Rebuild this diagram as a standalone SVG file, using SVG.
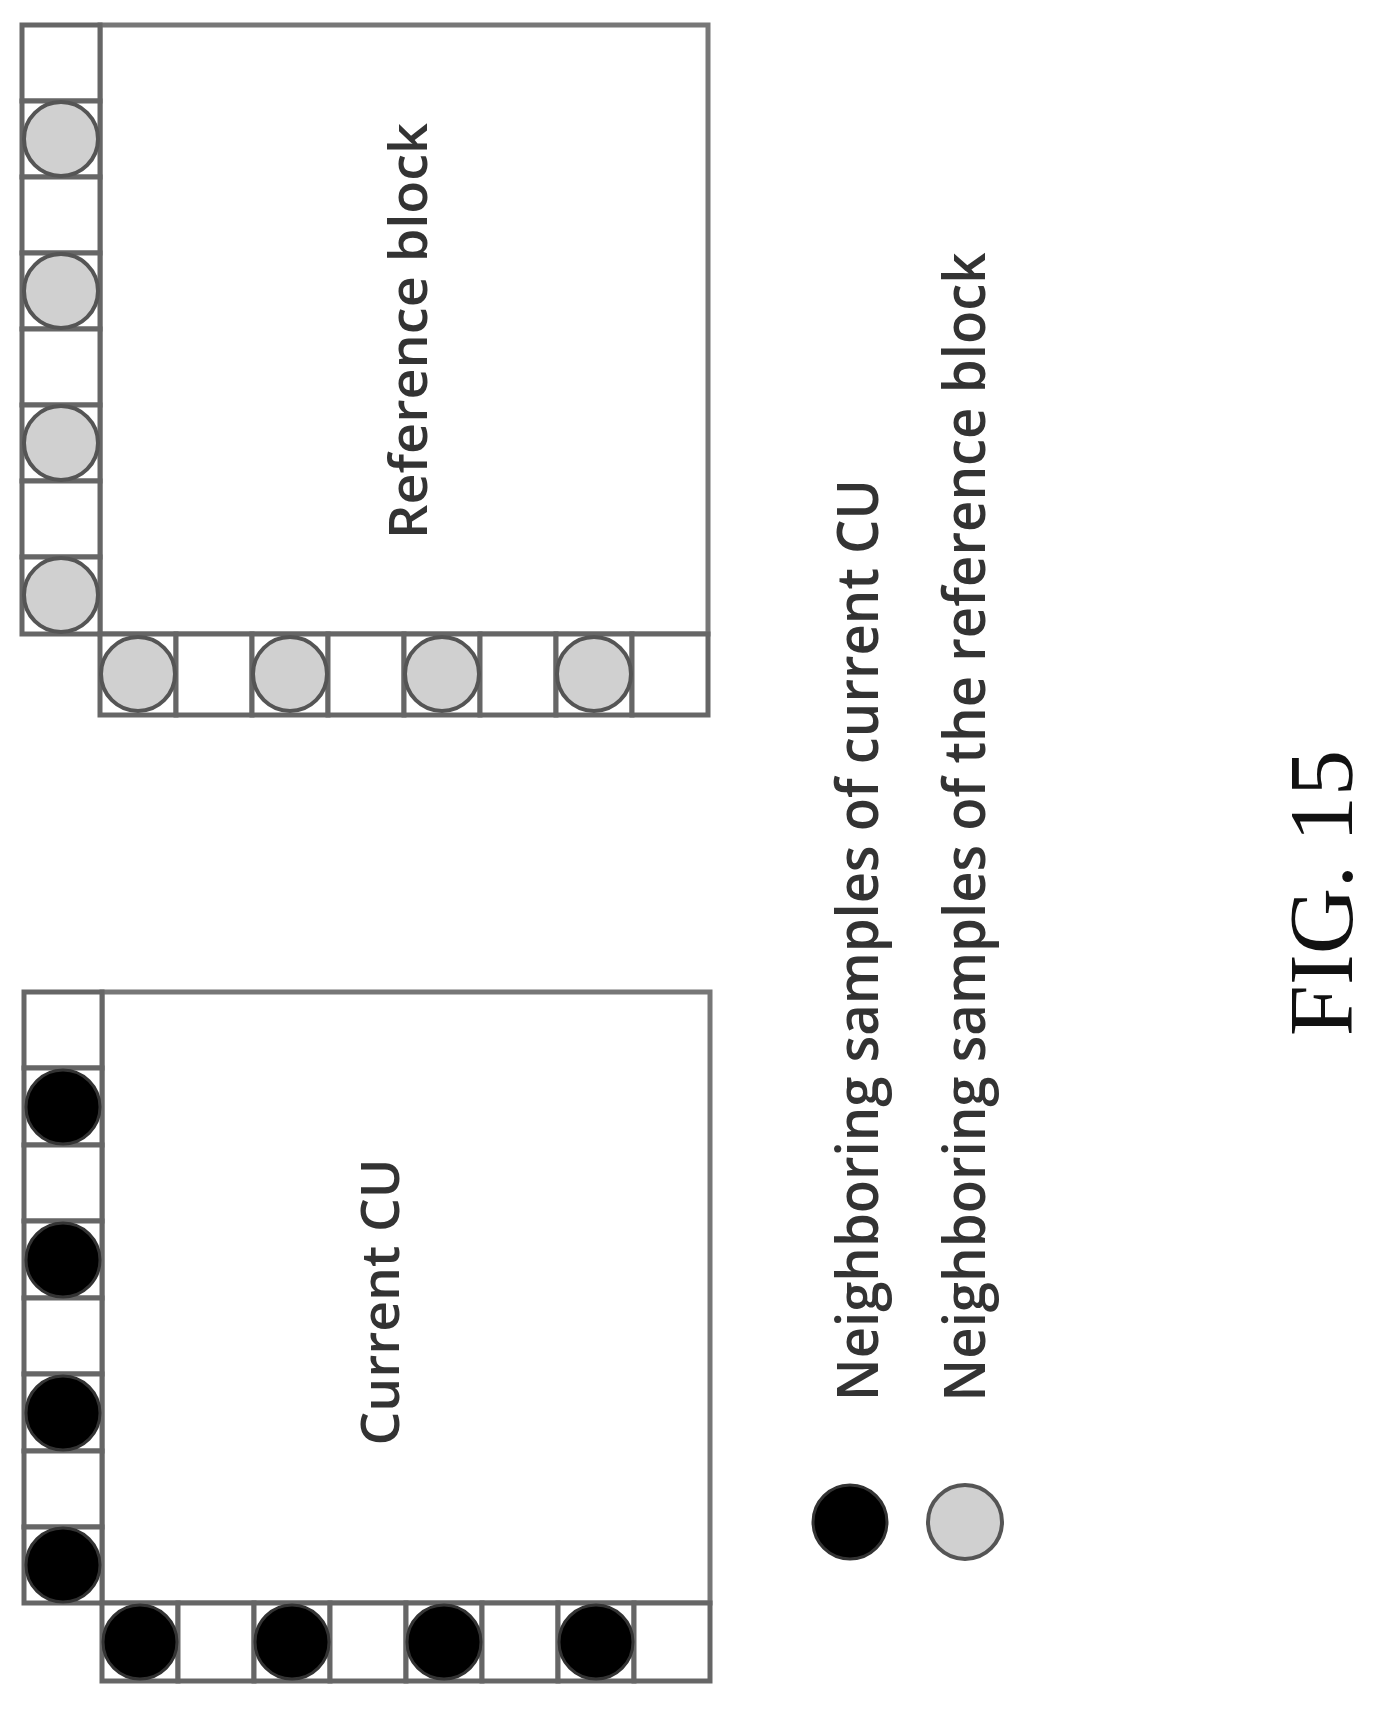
<svg xmlns="http://www.w3.org/2000/svg" width="1399" height="1719" viewBox="0 0 1399 1719">
<style>
.cell{fill:#fff;stroke:#666;stroke-width:5}
.blk{fill:#fff;stroke:#777;stroke-width:5}
.g{fill:#d0d0d0;stroke:#555;stroke-width:4}
.k{fill:#000;stroke:#333;stroke-width:3}
.t{font-family:"Open Sans","DejaVu Sans",sans-serif;fill:#333;text-anchor:middle;font-weight:600}
</style>
<rect width="1399" height="1719" fill="#fff"/>
<g id="reference-block">
<rect class="blk" x="100" y="25" width="608" height="609"/>
<g>
<rect class="cell" x="22" y="25" width="78" height="76"/>
<rect class="cell" x="22" y="101" width="78" height="76"/>
<rect class="cell" x="22" y="177" width="78" height="76"/>
<rect class="cell" x="22" y="253" width="78" height="76"/>
<rect class="cell" x="22" y="329" width="78" height="76"/>
<rect class="cell" x="22" y="405" width="78" height="76"/>
<rect class="cell" x="22" y="481" width="78" height="76"/>
<rect class="cell" x="22" y="557" width="78" height="77"/>
<circle class="g" cx="61" cy="139" r="37"/>
<circle class="g" cx="61" cy="291" r="37"/>
<circle class="g" cx="61" cy="443" r="37"/>
<circle class="g" cx="61" cy="595" r="37"/>
<rect class="cell" x="100" y="634" width="76" height="81"/>
<rect class="cell" x="176" y="634" width="76" height="81"/>
<rect class="cell" x="252" y="634" width="76" height="81"/>
<rect class="cell" x="328" y="634" width="76" height="81"/>
<rect class="cell" x="404" y="634" width="76" height="81"/>
<rect class="cell" x="480" y="634" width="76" height="81"/>
<rect class="cell" x="556" y="634" width="76" height="81"/>
<rect class="cell" x="632" y="634" width="76" height="81"/>
<circle class="g" cx="138" cy="674" r="37"/>
<circle class="g" cx="290" cy="674" r="37"/>
<circle class="g" cx="442" cy="674" r="37"/>
<circle class="g" cx="594" cy="674" r="37"/>
</g>
<text class="t" font-size="52" transform="translate(427,331) rotate(-90)" textLength="416" lengthAdjust="spacingAndGlyphs">Reference block</text>
</g>
<g id="current-cu">
<rect class="blk" x="102" y="992" width="608" height="611"/>
<rect class="cell" x="24" y="992" width="78" height="76"/>
<rect class="cell" x="24" y="1068" width="78" height="77"/>
<rect class="cell" x="24" y="1145" width="78" height="76"/>
<rect class="cell" x="24" y="1221" width="78" height="77"/>
<rect class="cell" x="24" y="1298" width="78" height="76"/>
<rect class="cell" x="24" y="1374" width="78" height="77"/>
<rect class="cell" x="24" y="1451" width="78" height="76"/>
<rect class="cell" x="24" y="1527" width="78" height="76"/>
<circle class="k" cx="63" cy="1107" r="37"/>
<circle class="k" cx="63" cy="1260" r="37"/>
<circle class="k" cx="63" cy="1413" r="37"/>
<circle class="k" cx="63" cy="1565" r="37"/>
<rect class="cell" x="102" y="1603" width="76" height="78"/>
<rect class="cell" x="178" y="1603" width="76" height="78"/>
<rect class="cell" x="254" y="1603" width="76" height="78"/>
<rect class="cell" x="330" y="1603" width="76" height="78"/>
<rect class="cell" x="406" y="1603" width="76" height="78"/>
<rect class="cell" x="482" y="1603" width="76" height="78"/>
<rect class="cell" x="558" y="1603" width="76" height="78"/>
<rect class="cell" x="634" y="1603" width="76" height="78"/>
<circle class="k" cx="140" cy="1642" r="37"/>
<circle class="k" cx="292" cy="1642" r="37"/>
<circle class="k" cx="444" cy="1642" r="37"/>
<circle class="k" cx="596" cy="1642" r="37"/>
<text class="t" font-size="52" transform="translate(399,1302) rotate(-90)" textLength="287" lengthAdjust="spacingAndGlyphs">Current CU</text>
</g>
<g id="legend">
<circle class="k" cx="850" cy="1522" r="37"/>
<circle class="g" cx="965" cy="1522" r="37"/>
<text class="t" font-size="58" transform="translate(878,940) rotate(-90)" textLength="922" lengthAdjust="spacingAndGlyphs">Neighboring samples of current CU</text>
<text class="t" font-size="58" transform="translate(985,827) rotate(-90)" textLength="1149" lengthAdjust="spacingAndGlyphs">Neighboring samples of the reference block</text>
</g>
<g id="caption">
<text font-family="Liberation Serif,serif" font-size="92" text-anchor="middle" fill="#111" transform="translate(1352,893) rotate(-90)">FIG. 15</text>
</g>
</svg>
